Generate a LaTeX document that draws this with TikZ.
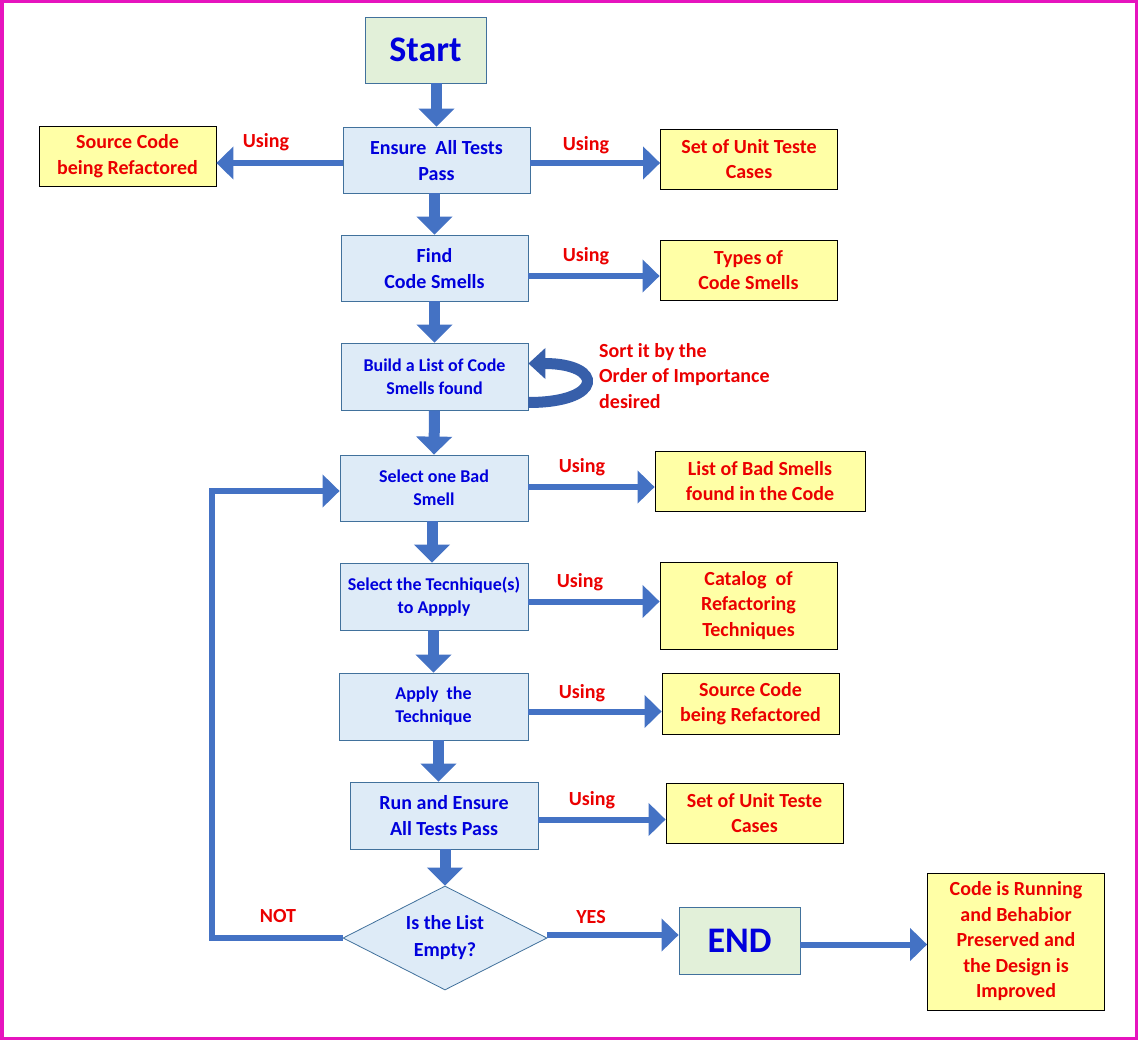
\documentclass[tikz,border=0pt]{standalone}
\usepackage{fontspec}
\setmainfont{Carlito}
\usetikzlibrary{arrows.meta,positioning,calc,shapes.geometric}
\definecolor{procfill}{RGB}{222,235,247}
\definecolor{procline}{RGB}{65,113,156}
\definecolor{termfill}{RGB}{226,240,217}
\definecolor{resfill}{RGB}{255,255,166}
\definecolor{flowblue}{RGB}{68,114,196}
\definecolor{loopblue}{RGB}{55,95,170}
\definecolor{txtblue}{RGB}{0,0,220}
\definecolor{txtred}{RGB}{235,0,0}
\definecolor{frame}{RGB}{230,20,190}

\begin{document}
\begin{tikzpicture}[x=1pt,y=-1pt,
  proc/.style={draw=procline, fill=procfill, line width=0.8pt, text=txtblue,
    font=\bfseries\fontsize{20}{26}\selectfont, align=center, inner sep=0pt,
    minimum width=187pt, minimum height=66pt},
  procsm/.style={proc, font=\bfseries\fontsize{18}{23}\selectfont},
  term/.style={proc, fill=termfill, font=\bfseries\fontsize{36}{40}\selectfont,
    minimum width=121pt, minimum height=66pt},
  resbox/.style={draw=black, fill=resfill, line width=0.8pt, text=txtred,
    font=\bfseries\fontsize{20}{25.5}\selectfont, align=center, inner sep=0pt,
    minimum width=177pt, minimum height=60pt},
  redlbl/.style={text=txtred, font=\bfseries\fontsize{20}{25.5}\selectfont, inner sep=0pt},
  flowdown/.style={draw=flowblue, line width=11pt, -{Triangle[width=35pt,length=18pt]}},
  flowside/.style={draw=flowblue, line width=6pt, -{Triangle[width=32pt,length=17pt]}}]
  \useasboundingbox (0,0) rectangle (1138,1040); % 全体の大きさ
  \fill[white] (0,0) rectangle (1138,1040); % 背景
  \draw[line width=3.5pt, draw=frame] (1.75,1.75) rectangle (1136.25,1038.25); % 外枠

  \node[term] (start) at (425.5,50) {Start}; % 開始
  \node[proc, text depth=-8pt] (ensure) at (436.5,160) {Ensure\ \ All Tests\\Pass}; % 最初のテスト
  \node[resbox] (srcA) at (127.5,156) {Source Code\\being Refactored}; % 左側の資料
  \node[resbox] (unitA) at (749,159) {Set of Unit Teste\\Cases}; % 右側の資料
  \node[proc, text depth=-8pt] (find) at (434.5,268) {Find\\Code Smells}; % においを探す
  \node[resbox] (types) at (748.5,270) {Types of\\Code Smells};
  \node[procsm, minimum height=67pt] (build) at (434.5,376.5) {Build a List of Code\\Smells found}; % 一覧を作る
  \node[procsm, minimum width=188pt] (select) at (434,488) {Select one Bad\\Smell}; % 一つ選ぶ
  \node[resbox, minimum width=210pt] (badlist) at (760,481) {List of Bad Smells\\found in the Code};
  \node[procsm, minimum width=188pt, minimum height=67pt] (tech) at (434,596.5) {Select the Tecnhique(s)\\to Appply}; % 技法を選ぶ
  \node[resbox, minimum height=87pt] (catalog) at (748.5,605.5) {Catalog\ \ of\\Refactoring\\Techniques};
  \node[procsm, minimum width=189pt, minimum height=67pt] (apply) at (433.5,706.5) {Apply\ \ the\\Technique}; % 技法を適用
  \node[resbox, minimum height=61pt] (srcB) at (750.5,703.5) {Source Code\\being Refactored};
  \node[proc, minimum width=188pt, minimum height=67pt, text depth=-6pt] (run) at (444,815.5) {Run and Ensure\\All Tests Pass}; % 再テスト
  \node[resbox] (unitB) at (754.5,813) {Set of Unit Teste\\Cases};
  \node[diamond, draw=procline, fill=procfill, line width=0.8pt, text=txtblue,
    font=\bfseries\fontsize{20}{27}\selectfont, align=center, inner sep=0pt, aspect=1.96,
    minimum width=204pt, minimum height=104pt] (empty) at (445,938) {Is the List\\Empty?}; % 判断
  \node[term, minimum height=67pt] (endn) at (739.5,940.5) {END}; % 終了
  \node[resbox, minimum height=137pt] (done) at (1016,941.5) {Code is Running\\and Behabior\\Preserved and\\the Design is\\Improved}; % 結果

  \node[redlbl] (u1) at (266,142) {Using}; % 矢印の上の文字
  \node[redlbl] (u2) at (586,145) {Using};
  \node[redlbl] (u3) at (586,256) {Using};
  \node[redlbl] (u4) at (582,467) {Using};
  \node[redlbl] (u5) at (580,582) {Using};
  \node[redlbl] (u6) at (582,693) {Using};
  \node[redlbl] (u7) at (592,800) {Using};
  \node[redlbl] (no) at (278,916) {NOT};
  \node[redlbl] (yes) at (591,917) {YES};
  \node[redlbl, anchor=north west, align=left] (sort) at (599,343) {Sort it by the\\Order of Importance\\desired}; % 並べ替えの説明

  \draw[flowdown] (start.south -| ensure.north) -- (ensure.north); % 下向きの矢印
  \draw[flowdown] (ensure.south -| find.north) -- (find.north);
  \draw[flowdown] (find.south) -- (build.north);
  \draw[flowdown] (build.south) -- (select.north);
  \draw[flowdown] ([xshift=-2pt]select.south) -- ([xshift=-2pt]tech.north);
  \draw[flowdown] (tech.south -| apply.north) -- (apply.north);
  \draw[flowdown] ([xshift=5pt]apply.south) -- ([xshift=5pt]apply.south |- run.north);
  \draw[flowdown] (run.south -| empty.north) -- (empty.north);

  \draw[flowside] ([yshift=-3pt]ensure.west) -- ([yshift=-3pt]ensure.west -| srcA.east); % 横向きの矢印
  \draw[flowside] ([yshift=-3pt]ensure.east) -- ([yshift=-3pt]ensure.east -| unitA.west);
  \draw[flowside] ([yshift=-8pt]find.east) -- ([yshift=-8pt]find.east -| types.west);
  \draw[flowside] ([yshift=1pt]select.east) -- ([yshift=1pt]select.east -| badlist.west);
  \draw[flowside] ([yshift=-5pt]tech.east) -- ([yshift=-5pt]tech.east -| catalog.west);
  \draw[flowside] ([yshift=-5pt]apply.east) -- ([yshift=-5pt]apply.east -| srcB.west);
  \draw[flowside] ([yshift=-4pt]run.east) -- ([yshift=-4pt]run.east -| unitB.west);
  \draw[flowside] ([yshift=3pt]empty.east) -- ([yshift=3pt]empty.east -| endn.west);
  \draw[flowside] ([yshift=-4pt]endn.east) -- ([yshift=-4pt]endn.east -| done.west);
  \draw[flowside, line join=miter] (empty.west) -| ([xshift=-128pt,yshift=-3pt]select.west) -- ([yshift=-3pt]select.west); % 戻りの線

  \draw[draw=loopblue, line width=11pt, -{Triangle[width=30pt,length=17pt]}]
    ([yshift=-26pt]build.east) .. controls ([xshift=76pt,yshift=-26pt]build.east)
    and ([xshift=76pt,yshift=13pt]build.east) .. ([yshift=13pt]build.east); % 回り込む矢印
\end{tikzpicture}
\end{document}
